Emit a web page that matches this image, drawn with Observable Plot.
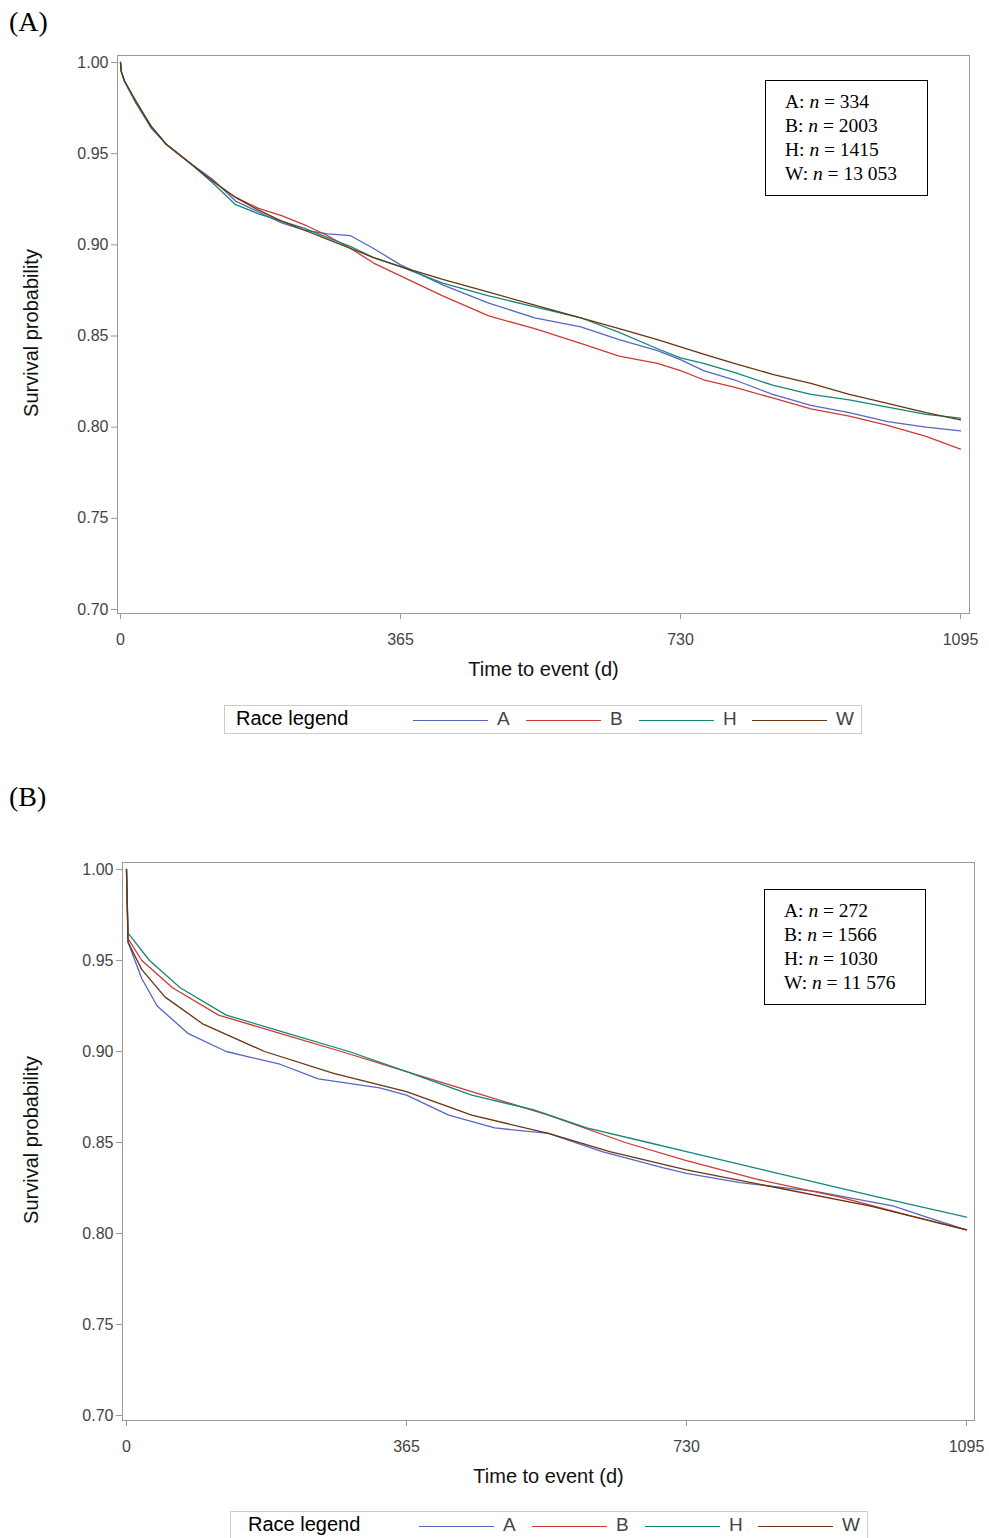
<!DOCTYPE html><html><head><meta charset="utf-8">
<script src="https://cdn.jsdelivr.net/npm/d3@7"></script>
<script src="https://cdn.jsdelivr.net/npm/@observablehq/plot@0.6"></script>
<style>
body{margin:0;background:#fff;font-family:"Liberation Sans",Arial,sans-serif;}
#wrap{position:relative;width:989px;height:1538px;}
.pl{position:absolute;left:0;}
.tag{position:absolute;left:9px;font:28px "Liberation Serif",serif;}
.ylab{position:absolute;width:300px;text-align:center;font-size:20px;color:#111;transform:translate(-50%,-50%) rotate(-90deg);}
.nbox{position:absolute;border:1.3px solid #000;background:#fff;font:19.5px "Liberation Serif",serif;line-height:24px;padding:9px 30px 9px 19px;}
.leg{position:absolute;border:1px solid #ccc;height:27px;font-size:19px;}
.leg span{position:absolute;top:2px;}
.leg i{position:absolute;top:14px;height:0;border-top:1.6px solid;width:75px;}
</style></head><body><div id="wrap"></div>
<script>
const groups=["A","B","H","W"];
const colors=["#5566c4","#cc3b33","#12877a","#6a3410"];
const yTicks=[0.70,0.75,0.80,0.85,0.90,0.95,1.00];
const xTicks=[0,365,730,1095];
// Panel A
const tA=[0,1,5,20,40,60,90,120,150,180,210,240,270,300,330,365,420,480,540,600,650,700,730,760,800,850,900,950,1000,1050,1095];
const sA_A=[1,0.995,0.99,0.978,0.965,0.955,0.945,0.936,0.924,0.918,0.912,0.908,0.906,0.905,0.898,0.889,0.878,0.868,0.86,0.855,0.848,0.842,0.837,0.831,0.826,0.818,0.812,0.808,0.803,0.8,0.798];
const sA_B=[1,0.995,0.99,0.978,0.965,0.955,0.945,0.935,0.926,0.92,0.916,0.911,0.905,0.898,0.89,0.883,0.872,0.861,0.854,0.846,0.839,0.835,0.831,0.826,0.822,0.816,0.81,0.806,0.801,0.795,0.788];
const sA_H=[1,0.995,0.99,0.978,0.964,0.955,0.945,0.934,0.922,0.917,0.913,0.909,0.904,0.899,0.893,0.888,0.879,0.872,0.866,0.86,0.852,0.843,0.838,0.835,0.83,0.823,0.818,0.815,0.811,0.807,0.805];
const sA_W=[1,0.995,0.99,0.979,0.965,0.955,0.945,0.935,0.926,0.919,0.913,0.908,0.903,0.898,0.893,0.888,0.881,0.874,0.867,0.86,0.854,0.848,0.844,0.84,0.835,0.829,0.824,0.818,0.813,0.808,0.804];
// Panel B
const tB_A=[0,2,20,40,80,130,200,250,330,365,420,480,550,620,700,730,800,900,1000,1050,1095];
const sB_A=[1,0.96,0.94,0.925,0.91,0.9,0.893,0.885,0.88,0.876,0.865,0.858,0.855,0.845,0.836,0.833,0.828,0.823,0.815,0.808,0.802];
const tB_B=[0,2,20,60,120,200,280,365,450,550,650,730,820,930,1020,1095];
const sB_B=[1,0.962,0.95,0.935,0.92,0.91,0.9,0.889,0.878,0.865,0.85,0.84,0.83,0.82,0.81,0.802];
const tB_H=[0,2,30,70,130,210,290,365,450,530,600,680,730,830,900,980,1095];
const sB_H=[1,0.965,0.95,0.935,0.92,0.91,0.9,0.889,0.876,0.868,0.858,0.85,0.845,0.835,0.828,0.82,0.809];
const tB_W=[0,2,20,50,100,180,270,365,450,550,630,730,850,970,1095];
const sB_W=[1,0.96,0.945,0.93,0.915,0.9,0.888,0.878,0.865,0.855,0.845,0.835,0.825,0.815,0.802];
const nA=["334","2003","1415","13 053"], nB=["272","1566","1030","11 576"];

function rows(ts,ss){return groups.flatMap((g,i)=>ts[i].map((t,j)=>({t,s:ss[i][j],g})));}
const wrap=document.getElementById("wrap");
function panel(top,data,tag,ns,nboxPos,legTop,legLeft,ml,mr,il,ir,ib,legText){
  const p=Plot.plot({width:989,height:693,marginTop:55,marginLeft:ml,marginRight:mr,marginBottom:80,
    style:{fontFamily:"Liberation Sans, Arial, sans-serif",fontSize:"16px",color:"#333"},
    x:{domain:[0,1095],insetLeft:il,insetRight:ir},
    y:{domain:[0.7,1.0],insetTop:7,insetBottom:ib},
    color:{domain:groups,range:colors},
    marks:[Plot.frame({stroke:"#999"}),
      Plot.axisX({ticks:xTicks,tickSize:6,stroke:"#999",fill:"#444",tickPadding:14,tickFormat:d=>String(d),label:null}),
      Plot.axisY({ticks:yTicks,tickSize:6,tickFormat:d3.format(".2f"),stroke:"#999",fill:"#444",label:null}),
      Plot.line(data,{x:"t",y:"s",z:"g",stroke:"g",strokeWidth:1.3}),
      Plot.text(["Time to event (d)"],{frameAnchor:"bottom",dy:62,fontSize:20,fill:"#111"})]});
  p.classList.add("pl");p.style.top=top+"px";wrap.appendChild(p);
  const yl=document.createElement("div");yl.className="ylab";yl.style.left="31px";yl.style.top=(top+333)+"px";yl.textContent="Survival probability";wrap.appendChild(yl);
  const t=document.createElement("div");t.className="tag";t.style.top=(top+tag[1])+"px";t.textContent=tag[0];wrap.appendChild(t);
  const b=document.createElement("div");b.className="nbox";b.style.left=nboxPos[0]+"px";b.style.top=nboxPos[1]+"px";
  b.innerHTML=groups.map((g,i)=>`${g}: <i>n</i> = ${ns[i]}`).join("<br>");wrap.appendChild(b);
  const l=document.createElement("div");l.className="leg";l.style.left=legLeft+"px";l.style.top=legTop+"px";l.style.width="636px";
  let h=`<span style="left:${legText}px;top:1px;font-size:20px">Race legend</span>`;
  groups.forEach((g,i)=>{const x=188+i*113;h+=`<i style="left:${x}px;border-color:${colors[i]}"></i><span style="left:${x+84}px;color:#444">${g}</span>`;});
  l.innerHTML=h;wrap.appendChild(l);
}
panel(0,rows([tA,tA,tA,tA],[sA_A,sA_B,sA_H,sA_W]),["(A)",6],nA,[765,80],705,224,117,20,3,9,4,11);
panel(807,rows([tB_A,tB_B,tB_H,tB_W],[sB_A,sB_B,sB_H,sB_W]),["(B)",-26],nB,[764,889],1511,230,122,15,4,8,5,17);
</script>
</body></html>
